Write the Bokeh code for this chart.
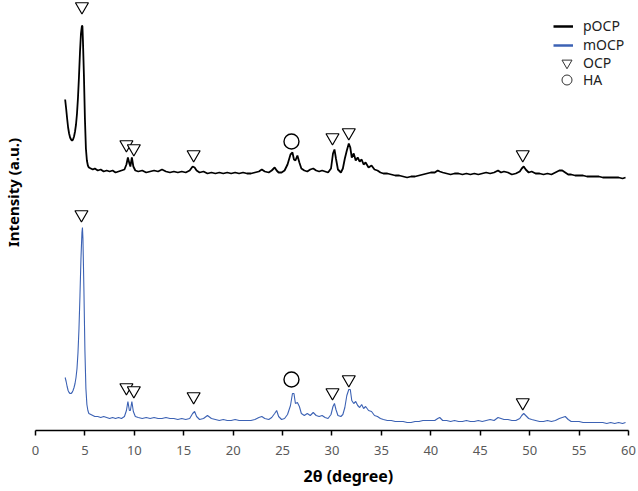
import math
from bokeh.plotting import figure
from bokeh.models import (FixedTicker, Legend, LegendItem, Range1d, Title, Label)
from bokeh.embed import file_html
from bokeh.resources import INLINE

# 2-theta grid (degrees)
two_theta = [
    3.0, 3.1, 3.2, 3.3, 3.4, 3.5, 3.6, 3.7, 3.8, 3.9,
    4.0, 4.1, 4.2, 4.3, 4.4, 4.5, 4.6, 4.7, 4.75, 4.8,
    4.9, 5.0, 5.1, 5.2, 5.3, 5.4, 5.6, 5.8, 6.0, 6.3,
    6.6, 6.9, 7.2, 7.5, 7.8, 8.1, 8.4, 8.7, 9.0, 9.2,
    9.35, 9.5, 9.6, 9.75, 9.9, 10.1, 10.4, 10.8, 11.2, 11.6,
    12.0, 12.4, 12.8, 13.2, 13.6, 14.0, 14.4, 14.8, 15.2, 15.6,
    15.9, 16.1, 16.3, 16.6, 17.0, 17.4, 17.8, 18.2, 18.6, 19.0,
    19.4, 19.8, 20.2, 20.6, 21.0, 21.4, 21.8, 22.2, 22.6, 22.9,
    23.2, 23.6, 23.9, 24.2, 24.4, 24.6, 24.9, 25.2, 25.5, 25.8,
    26.0, 26.15, 26.3, 26.5, 26.7, 26.9, 27.2, 27.5, 27.8, 28.1,
    28.4, 28.7, 29.0, 29.3, 29.6, 29.9, 30.1, 30.25, 30.4, 30.6,
    30.9, 31.1, 31.3, 31.5, 31.7, 31.85, 32.0, 32.2, 32.4, 32.6,
    32.8, 33.0, 33.2, 33.4, 33.7, 34.0, 34.3, 34.6, 34.9, 35.2,
    35.6, 36.0, 36.4, 36.8, 37.2, 37.6, 38.0, 38.4, 38.8, 39.2,
    39.6, 40.0, 40.4, 40.7, 40.9, 41.2, 41.6, 42.0, 42.4, 42.8,
    43.2, 43.6, 44.0, 44.4, 44.8, 45.2, 45.6, 46.0, 46.4, 46.8,
    47.1, 47.4, 47.8, 48.2, 48.6, 49.0, 49.2, 49.4, 49.6, 49.9,
    50.2, 50.6, 51.0, 51.4, 51.8, 52.2, 52.6, 53.0, 53.3, 53.6,
    53.9, 54.2, 54.6, 55.0, 55.4, 55.8, 56.2, 56.6, 57.0, 57.4,
    57.8, 58.2, 58.6, 59.0, 59.4, 59.7,
]

# pOCP intensity (a.u., offset trace)
pocp = [
    331, 322, 312, 303, 297, 293, 291, 290, 291, 294,
    299, 306, 317, 333, 354, 378, 397, 405, 404, 390,
    355, 312, 282, 270, 265, 263, 262, 261, 262, 260,
    261, 259, 260, 259, 260, 258, 259, 260, 261, 266,
    273, 267, 264, 273, 264, 260, 259, 260, 258, 259,
    260, 259, 261, 259, 258, 259, 258, 259, 258, 260,
    264, 263, 260, 258, 259, 257, 258, 257, 258, 257,
    258, 257, 258, 257, 258, 257, 257, 258, 259, 261,
    259, 258, 260, 263, 260, 258, 258, 260, 266, 276,
    278, 271, 270, 275, 268, 262, 260, 259, 261, 262,
    260, 259, 260, 259, 258, 262, 277, 281, 272, 261,
    258, 262, 272, 280, 287, 283, 273, 277, 270, 273,
    269, 271, 266, 268, 263, 265, 261, 260, 258, 257,
    257, 256, 255, 255, 254, 253, 254, 254, 255, 256,
    257, 258, 258, 260, 259, 258, 257, 256, 257, 257,
    256, 257, 256, 257, 256, 257, 258, 257, 258, 260,
    258, 259, 258, 256, 257, 259, 262, 264, 261, 258,
    259, 257, 257, 256, 257, 256, 258, 260, 260, 258,
    256, 256, 255, 255, 255, 254, 254, 254, 254, 253,
    253, 253, 253, 253, 252, 253,
]

# mOCP intensity (a.u.)
mocp = [
    53, 49, 44, 40, 38, 37, 37, 38, 40, 43,
    47, 53, 62, 78, 102, 135, 172, 198, 203, 192,
    140, 80, 42, 26, 20, 17, 16, 15, 14, 14,
    13, 14, 13, 12, 13, 12, 13, 12, 14, 20,
    29, 20, 20, 29, 19, 14, 13, 12, 13, 12,
    13, 12, 12, 13, 12, 12, 11, 12, 11, 12,
    17, 19, 14, 11, 12, 15, 12, 11, 10, 11,
    10, 10, 11, 10, 10, 10, 10, 11, 13, 14,
    12, 11, 13, 17, 20, 14, 11, 12, 16, 25,
    37, 37, 27, 28, 24, 17, 15, 17, 15, 18,
    15, 14, 15, 13, 12, 16, 24, 27, 21, 15,
    14, 16, 23, 35, 41, 41, 30, 27, 29, 25,
    23, 26, 22, 24, 20, 19, 15, 14, 12, 11,
    10, 10, 9, 9, 9, 8, 8, 9, 9, 10,
    10, 10, 10, 12, 13, 10, 10, 9, 10, 9,
    9, 10, 9, 9, 10, 9, 10, 11, 10, 13,
    12, 11, 11, 10, 10, 12, 15, 17, 15, 12,
    11, 10, 9, 9, 10, 9, 10, 12, 13, 14,
    11, 9, 9, 9, 8, 8, 8, 8, 8, 8,
    7, 8, 7, 8, 7, 8,
]

# Phase markers: OCP (triangles) and HA (circle)
ocp_x = [4.7, 9.2, 9.95, 16.0, 30.05, 31.7, 49.3,
         4.65, 9.2, 9.95, 16.0, 30.05, 31.7, 49.3]
ocp_y = [424, 286, 282, 276, 293, 298, 276,
         216, 43, 40, 34, 38, 51, 28]
ha_x = [25.9, 25.9]
ha_y = [289, 51]

x_ticks = list(range(0, 61, 5))

FONT = "Noto Sans"
BLUE = "#3C62B4"

# frame spans the whole left margin; axis is bounded to 0..60
p = figure(width=638, height=491, output_backend="svg", toolbar_location=None,
           x_range=Range1d(-3.541, 60), y_range=Range1d(0, 430),
           min_border_left=0, min_border_right=10, min_border_top=0,
           min_border_bottom=61, y_axis_location=None)
p.outline_line_color = None
p.xgrid.visible = False
p.ygrid.visible = False
p.background_fill_color = "white"
p.border_fill_color = "white"

line_p = p.line(two_theta, pocp, line_color="black", line_width=1.8)
line_m = p.line(two_theta, mocp, line_color=BLUE, line_width=1.1)

tri = p.scatter(ocp_x, ocp_y, marker="inverted_triangle", size=13,
                fill_color="white", line_color="black", line_width=1.2)
circ = p.scatter(ha_x, ha_y, marker="circle", size=15,
                 fill_color="white", line_color="black", line_width=1.4)

# legend-only glyph styles (placed outside the visible range)
off_x = [-50, -40]
off_y = [-50, -40]
leg_p = p.line(off_x, off_y, line_color="black", line_width=2.5)
leg_m = p.line(off_x, off_y, line_color=BLUE, line_width=2.5)
leg_t = p.scatter(off_x, off_y, marker="inverted_triangle", fill_color="white",
                  line_color="#333333", line_width=1)
leg_c = p.scatter(off_x, off_y, marker="circle", fill_color="white",
                  line_color="#333333", line_width=1)

ax = p.xaxis[0]
ax.bounds = (0, 60)
ax.ticker = FixedTicker(ticks=x_ticks)
ax.minor_tick_line_color = None
ax.major_tick_in = 0
ax.major_tick_out = 5
ax.axis_line_color = "black"
ax.axis_line_width = 1.5
ax.major_tick_line_color = "black"
ax.major_tick_line_width = 1.5
ax.major_label_text_font = FONT
ax.major_label_text_font_size = "13px"
ax.major_label_text_color = "#595959"
ax.major_label_standoff = 10

xt = Title(text="2θ (degree)", align="left", offset=303, standoff=10,
           text_font=FONT, text_font_size="16px", text_font_style="bold",
           text_color="black")
p.add_layout(xt, "below")

ylab = Label(x=-2.226, y=238, text="Intensity (a.u.)", angle=math.pi / 2,
             text_font=FONT, text_font_size="15px", text_font_style="bold",
             text_align="center", text_baseline="middle", text_color="black")
p.add_layout(ylab)

common = dict(padding=0, margin=0, label_text_font=FONT,
              label_text_font_size="14px", label_text_color="#222222",
              border_line_color=None, background_fill_alpha=0)
leg1 = Legend(items=[LegendItem(label="pOCP", renderers=[leg_p]),
                     LegendItem(label="mOCP", renderers=[leg_m])],
              location=(553, 376), glyph_width=20, glyph_height=16,
              label_height=16, spacing=0, label_standoff=10, **common)
leg2 = Legend(items=[LegendItem(label="OCP", renderers=[leg_t])],
              location=(554, 355), glyph_width=25, glyph_height=25,
              label_height=16, spacing=0, label_standoff=4, **common)
leg3 = Legend(items=[LegendItem(label="HA", renderers=[leg_c])],
              location=(554, 338), glyph_width=25, glyph_height=25,
              label_height=16, spacing=0, label_standoff=4, **common)
p.add_layout(leg1)
p.add_layout(leg2)
p.add_layout(leg3)

open("out.html", "w").write(file_html(p, INLINE))
